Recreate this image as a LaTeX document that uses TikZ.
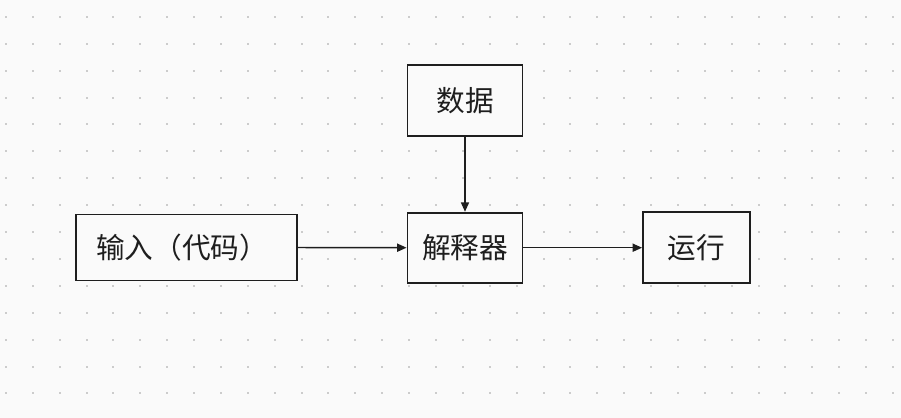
\documentclass[tikz,border=0pt]{standalone}
\usepackage{fontspec}
\newfontfamily\cjk{Noto Sans CJK SC}
\usetikzlibrary{arrows.meta}
\definecolor{bgc}{HTML}{FAFAFA}
\definecolor{dotc}{HTML}{CCCCCC}
\definecolor{inkc}{HTML}{1E1E1E}
\tikzset{
  box/.style={draw=inkc, line width=1.4pt, fill=bgc, inner sep=0pt, font=\cjk\fontsize{21.5}{24}\selectfont, text=inkc},
  conn/.style={draw=inkc, line width=1.1pt, -{Triangle[length=7pt,width=6pt]}}
}
\begin{document}
\begin{tikzpicture}[x=0.75pt,y=-0.75pt]
\fill[bgc] (0,0) rectangle (901,418);
\useasboundingbox (0,0) rectangle (901,418);
\foreach \i in {0,...,33}{
  \foreach \j in {0,...,14}{
    \fill[dotc] ({5.9+26.88*\i-1},{16.8+26.9*\j-1}) rectangle ++(2,2);
  }
}
\node[box, minimum width=165.75pt, minimum height=49.5pt] (inp) at (186.7,247.5) {输入（代码）\hspace*{7pt}};
\node[box, minimum width=86.25pt, minimum height=53.25pt] (data) at (465,100.5) {数据};
\node[box, minimum width=86.25pt, minimum height=52.5pt] (interp) at (465,247.7) {解释器};
\node[box, minimum width=80.25pt, minimum height=53.25pt] (run) at (696.5,247.7) {运行};
\draw[conn] (data.south) -- (interp.north);
\draw[conn] (inp.east) -- (interp.west);
\draw[conn] (interp.east) -- (run.west);
\end{tikzpicture}
\end{document}
